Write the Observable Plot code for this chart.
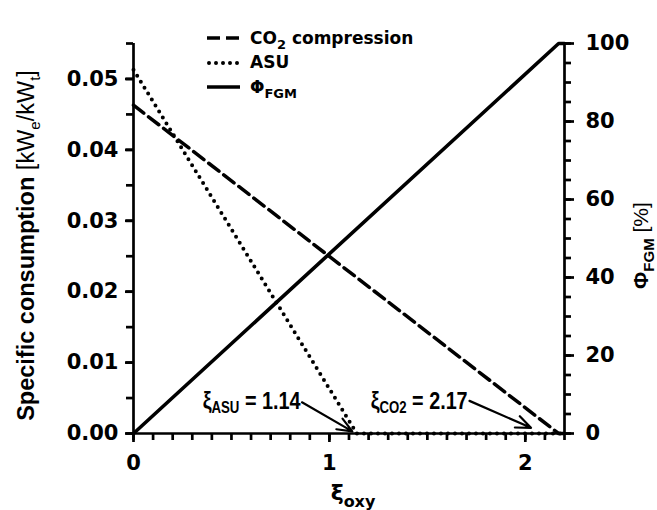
<!DOCTYPE html>
<html><head><meta charset="utf-8">
<script src="https://cdn.jsdelivr.net/npm/d3@7"></script>
<script src="https://cdn.jsdelivr.net/npm/@observablehq/plot@0.6"></script>
<style>
body{margin:0;background:#fff;}
#wrap{position:relative;width:657px;height:510px;overflow:hidden;background:#fff;}
#legend{position:absolute;left:207px;top:26px;font-family:'DejaVu Sans',sans-serif;font-weight:bold;font-size:17px;color:#000;}
.row{display:flex;align-items:center;height:24.5px;line-height:17px;}
.row svg{width:33px;height:10px;margin-right:10px;}
.row sub{font-size:13px;vertical-align:-5px;line-height:0;}
</style></head><body><div id="wrap"><div id="legend"></div></div>
<script>
// ---- data ----
const seriesNames = ["CO2 compression", "ASU", "ΦFGM"];
const co2Xi = [0, 2.17, 2.2];
const co2Val = [0.0463, 0, 0];
const asuXi = [0, 1.14, 2.2];
const asuVal = [0.0513, 0, 0];
const fgmXi = [0, 2.17, 2.2];
const fgmVal = [0, 100, 100];

const xTickValues = [0, 1, 2];
const yLeftTicks = [0, 0.01, 0.02, 0.03, 0.04, 0.05];
const yRightTicks = [0, 20, 40, 60, 80, 100];

const annotLabels = ["ξASU = 1.14", "ξCO2 = 2.17"];
const annotTextXi = [0.353, 1.211];
const annotTextVal = [0.0035, 0.0035];
const arrowFromXi = [0.86, 1.715];
const arrowFromVal = [0.0044, 0.0046];
const arrowToXi = [1.117, 2.029];
const arrowToVal = [0.0003, 0.0008];

// ---- build tables ----
const xMax = 2.2, yMax = 0.055, phiMax = 100;
const k = yMax / phiMax;
const co2 = co2Xi.map((x, i) => ({x, v: co2Val[i]}));
const asu = asuXi.map((x, i) => ({x, v: asuVal[i]}));
const fgm = fgmXi.map((x, i) => ({x, v: fgmVal[i]}));
const annots = annotLabels.map((label, i) => ({label, x: annotTextXi[i], y: annotTextVal[i],
  x1: arrowFromXi[i], y1: arrowFromVal[i], x2: arrowToXi[i], y2: arrowToVal[i]}));
const xMinor = d3.range(0, 23).map(i => i / 10);
const yMinor = d3.range(0, 12).map(i => i * 0.005);
const rMinor = d3.range(0, 21).map(i => i * 5);

const W = 2.7;
const plot = Plot.plot({
  width: 657, height: 510,
  marginLeft: 133, marginRight: 93, marginTop: 43, marginBottom: 77,
  x: {domain: [0, xMax]},
  y: {domain: [0, yMax]},
  style: {fontFamily: "'DejaVu Sans', sans-serif", fontWeight: "bold", fontSize: "21px", color: "#000", background: "#fff", overflow: "visible"},
  marks: [
    Plot.axisX({ticks: xMinor, tickSize: 7, tickFormat: () => "", strokeWidth: W, label: null}),
    Plot.axisX({ticks: xTickValues, tickSize: 9, tickPadding: 13, tickFormat: d => String(d), strokeWidth: W, label: null}),
    Plot.axisY({anchor: "left", ticks: yMinor, tickSize: 7, tickFormat: () => "", strokeWidth: W, label: null}),
    Plot.axisY({anchor: "left", ticks: yLeftTicks, tickSize: 8, tickPadding: 7, tickFormat: d3.format(".2f"), strokeWidth: W, label: null}),
    Plot.axisY({anchor: "right", ticks: rMinor.map(v => v * k), tickSize: 6, tickFormat: () => "", strokeWidth: W, label: null}),
    Plot.axisY({anchor: "right", ticks: yRightTicks.map(v => v * k), tickSize: 9, tickPadding: 12, tickFormat: v => String(Math.round(v / k)), strokeWidth: W, label: null}),
    Plot.ruleY([0], {strokeWidth: W}),
    Plot.ruleX([0], {strokeWidth: W}),
    Plot.ruleX([xMax], {strokeWidth: W}),
    Plot.line(co2, {x: "x", y: "v", stroke: "#000", strokeWidth: 3.5, strokeDasharray: "13,6"}),
    Plot.line(asu, {x: "x", y: "v", stroke: "#000", strokeWidth: 4, strokeDasharray: "0,7", strokeLinecap: "round"}),
    Plot.line(fgm, {x: "x", y: d => d.v * k, stroke: "#000", strokeWidth: 3.6}),
    Plot.arrow(annots, {x1: "x1", y1: "y1", x2: "x2", y2: "y2", stroke: "#000", strokeWidth: 2.2, headLength: 11, headAngle: 45}),
    Plot.text(annots, {x: "x", y: "y", text: "label", textAnchor: "start", lineAnchor: "bottom",
      fontFamily: "'Liberation Sans', Arial, sans-serif", fontSize: 24, fontWeight: "bold", fill: "#000"}),
    Plot.text(["Specific consumption [kWe/kWt]"], {frameAnchor: "left", rotate: -90, dx: -100, dy: 7, lineAnchor: "bottom", textAnchor: "middle",
      fontFamily: "'Liberation Sans', Arial, sans-serif", fontSize: 23.5, fill: "#000"}),
    Plot.text(["ΦFGM [%]"], {frameAnchor: "right", rotate: -90, dx: 83, dy: 7, lineAnchor: "bottom", textAnchor: "middle",
      fontFamily: "'Liberation Sans', Arial, sans-serif", fontSize: 21, fill: "#000"}),
    Plot.text(["ξoxy"], {frameAnchor: "bottom", dx: 4, dy: 66, lineAnchor: "bottom", textAnchor: "middle", fontSize: 22, fill: "#000"})
  ]
});

// ---- rich text (subscripts) ----
const narrowTargets = new Map([["ξASU = 1.14", 98], ["ξCO2 = 2.17", 97]]);
const toNarrow = [];
function rich(key, parts, subSize, shift) {
  d3.select(plot).selectAll("text").filter(function() { return this.textContent === key; }).each(function() {
    const sel = d3.select(this);
    sel.text(null);
    let cur = 0;
    for (const p of parts) {
      const ts = sel.append("tspan").text(p.t);
      const target = p.sub ? shift : 0;
      if (target !== cur) { ts.attr("dy", target - cur); cur = target; }
      if (p.sub) ts.attr("font-size", subSize);
      if (p.w) ts.attr("font-weight", p.w);
    }
    if (narrowTargets.has(key)) toNarrow.push([this, narrowTargets.get(key)]);
  });
}
rich("Specific consumption [kWe/kWt]", [
  {t: "Specific consumption", w: "bold"}, {t: " [kW", w: "normal"}, {t: "e", sub: true, w: "normal"},
  {t: "/kW", w: "normal"}, {t: "t", sub: true, w: "normal"}, {t: "]", w: "normal"}], 15, 6);
rich("ΦFGM [%]", [{t: "Φ", w: "bold"}, {t: "FGM", sub: true, w: "bold"}, {t: " [%]", w: "normal"}], 15, 6);
rich("ξoxy", [{t: "ξ"}, {t: "oxy", sub: true}], 16, 7);
rich("ξASU = 1.14", [{t: "ξ"}, {t: "ASU", sub: true}, {t: " = 1.14"}], 16, 4);
rich("ξCO2 = 2.17", [{t: "ξ"}, {t: "CO2", sub: true}, {t: " = 2.17"}], 16, 4);

document.getElementById("wrap").prepend(plot);

// condensed look for the annotation labels (horizontal scale about their anchor)
for (const [el, target] of toNarrow) {
  const len = el.getComputedTextLength();
  const sx = Math.min(1, target / len);
  const t = el.getAttribute("transform") || "";
  el.setAttribute("transform", `${t} scale(${sx.toFixed(3)},1)`);
}

// ---- legend ----
const legendDash = ["13,6", "0,7", null];
const legendHtml = ["CO<sub>2</sub> compression", "ASU", "Φ<sub>FGM</sub>"];
const legend = d3.select("#legend");
seriesNames.forEach((name, i) => {
  const row = legend.append("div").attr("class", "row");
  const s = row.append("svg").attr("viewBox", "0 0 33 10");
  const ln = s.append("line").attr("x1", legendDash[i] === "0,7" ? 2 : 0).attr("x2", 33).attr("y1", 5).attr("y2", 5)
    .attr("stroke", "#000").attr("stroke-width", legendDash[i] === "0,7" ? 4 : 3.5);
  if (legendDash[i]) ln.attr("stroke-dasharray", legendDash[i]);
  if (legendDash[i] === "0,7") ln.attr("stroke-linecap", "round");
  row.append("span").html(legendHtml[i]);
});
</script></body></html>
